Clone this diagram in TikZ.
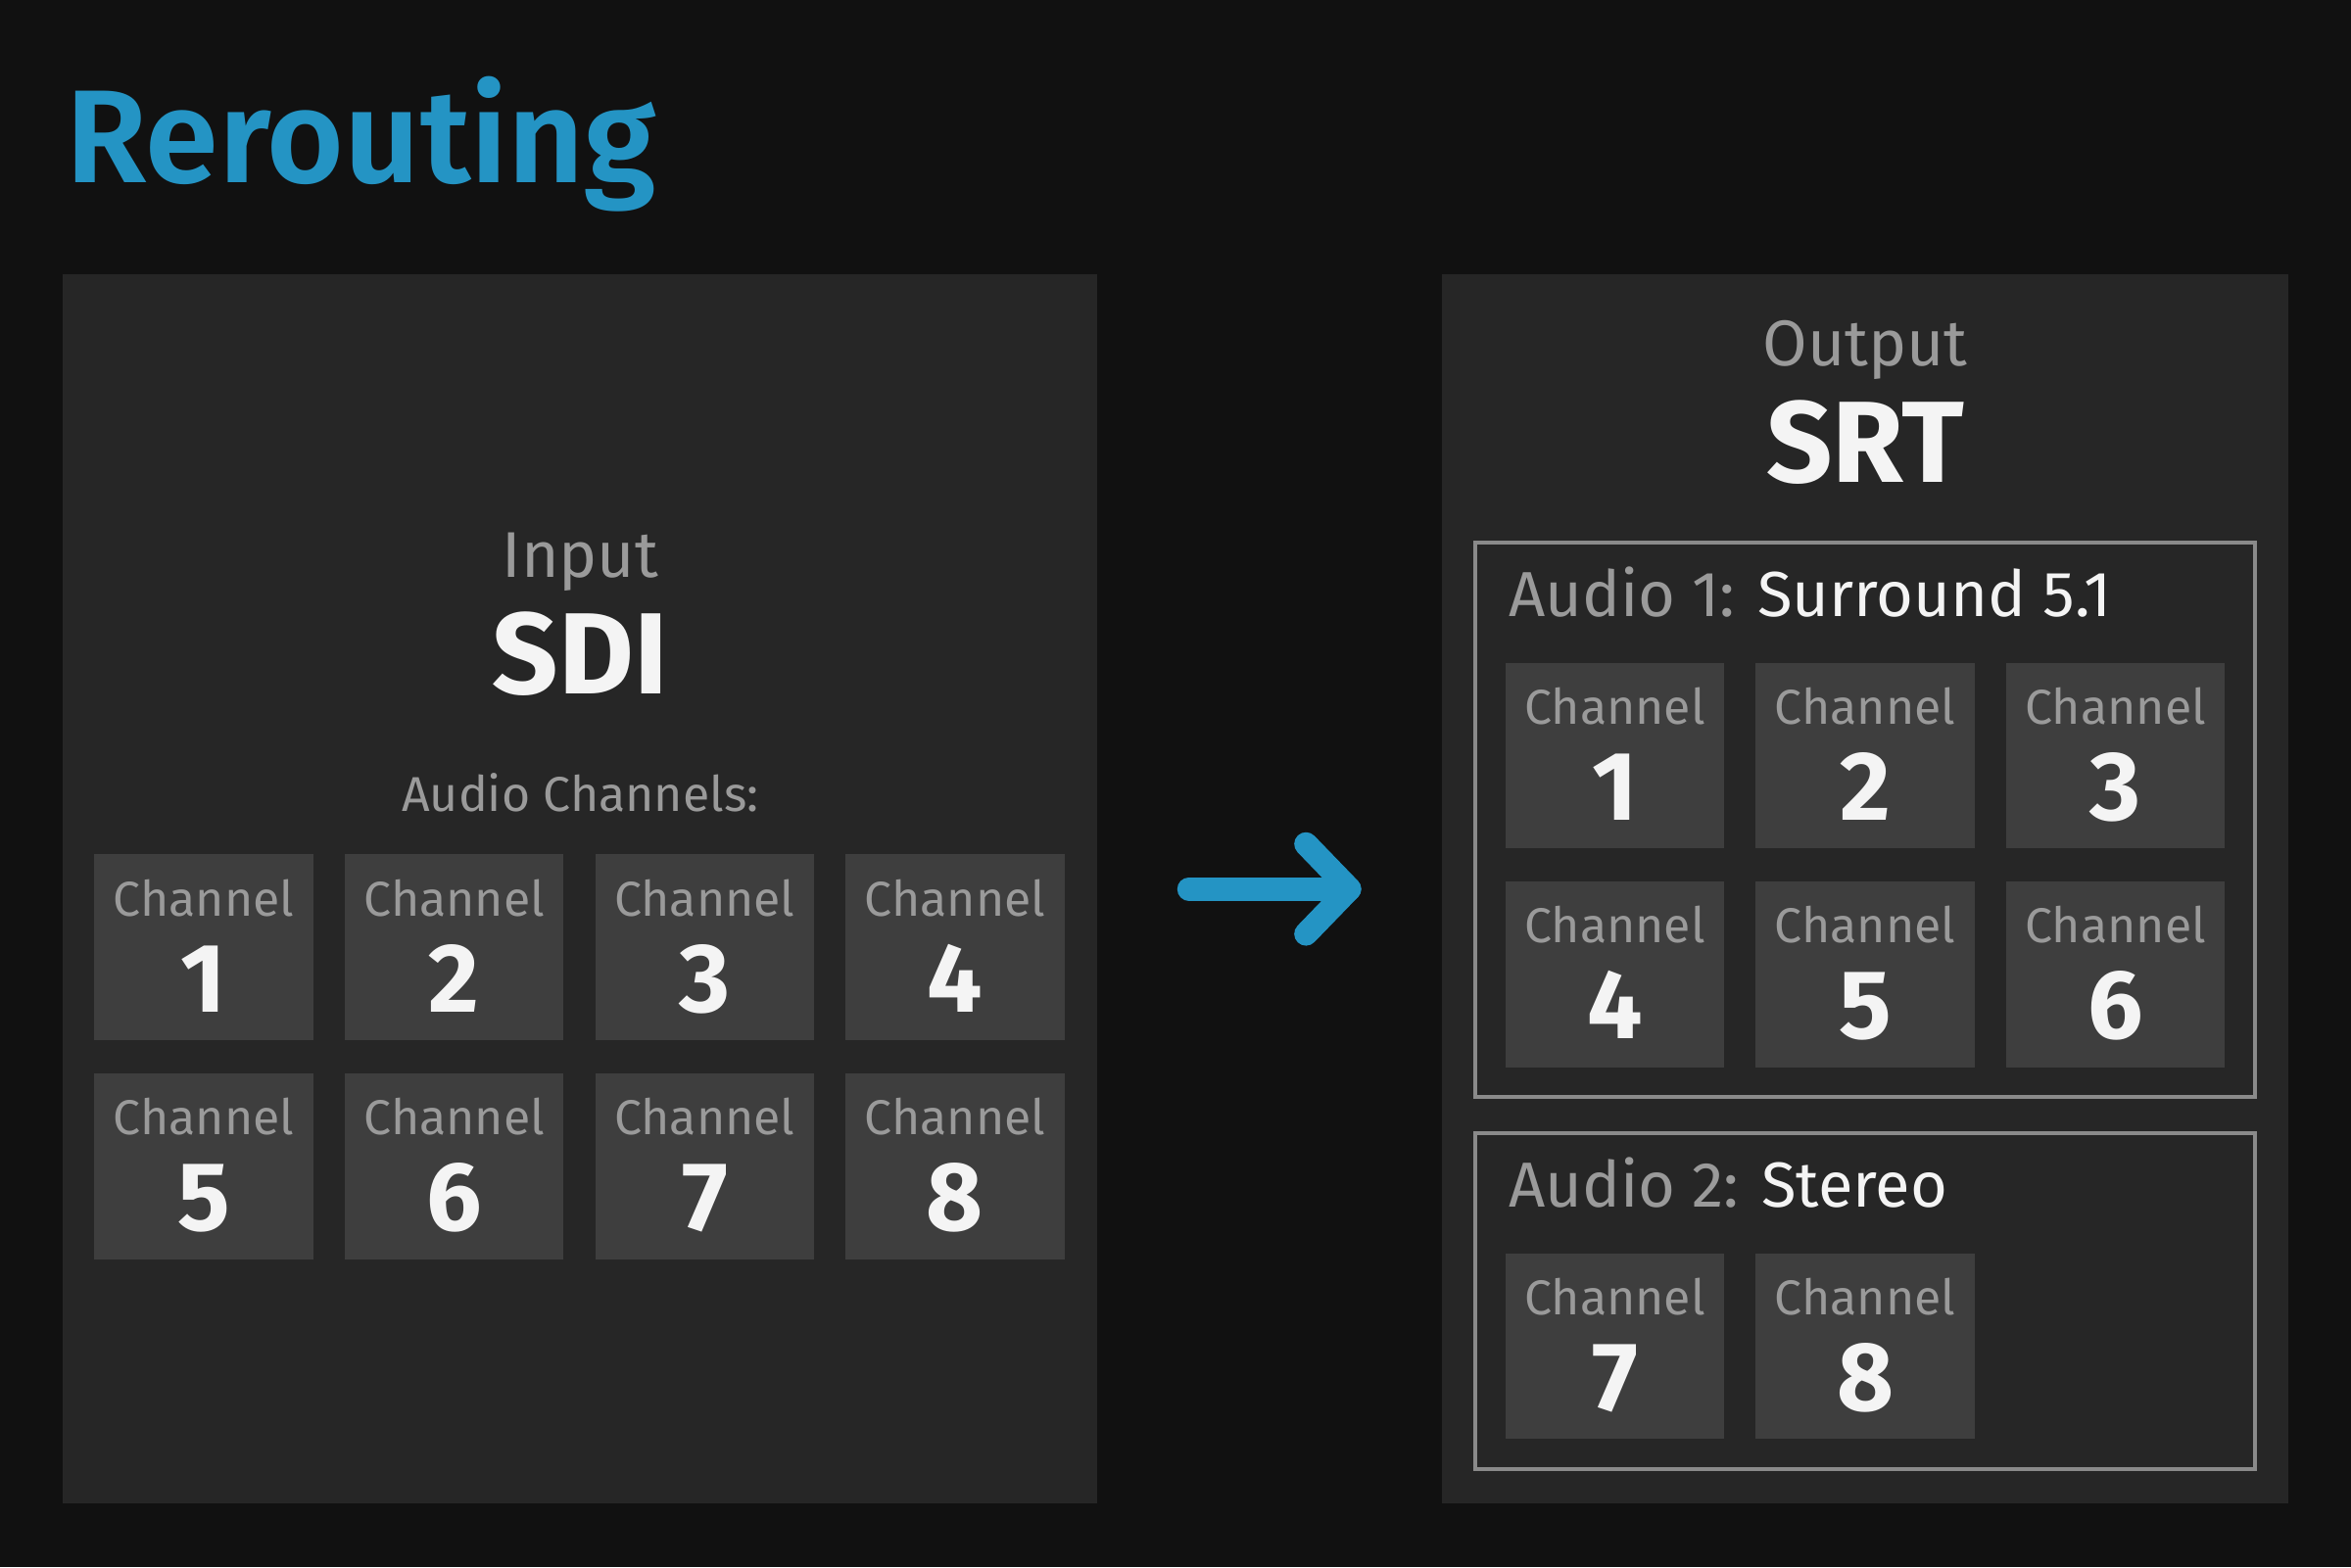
\documentclass[tikz,border=0pt]{standalone}
\usepackage{fontspec}
\setmainfont{Fira Sans}
\newfontfamily\semibf{Fira Sans SemiBold}
\definecolor{bgc}{HTML}{111111}
\definecolor{panelc}{HTML}{262626}
\definecolor{boxc}{HTML}{3E3E3E}
\definecolor{greyt}{HTML}{9A9A9A}
\definecolor{whitet}{HTML}{F4F4F4}
\definecolor{bluec}{HTML}{2494C4}
\definecolor{framec}{HTML}{8A8A8A}
\tikzset{
  panel/.style={fill=panelc, draw=none, inner sep=0pt},
  chbox/.style={fill=boxc, draw=none, minimum width=111.7pt, minimum height=94.9pt, inner sep=0pt},
  chlab/.style={text=greyt, font=\fontsize{25}{30}\selectfont, anchor=base, inner sep=0pt},
  chnum/.style={text=whitet, font=\fontsize{50}{56}\bfseries\selectfont, anchor=base, inner sep=0pt},
  grp/.style={draw=framec, line width=2pt, fill=none, inner sep=0pt},
  subt/.style={text=greyt, font=\fontsize{33}{38}\selectfont, anchor=base, inner sep=0pt},
  bigt/.style={text=whitet, font=\fontsize{59}{66}\bfseries\selectfont, anchor=base, inner sep=0pt},
  grpt/.style={text=greyt, font=\fontsize{32.5}{38}\selectfont, anchor=base west, inner sep=0pt},
  arrowline/.style={draw=bluec, line width=12pt, line cap=round, line join=round}
}
\newcommand{\mychan}[3]{%
  \node[chbox] (#1) at (#2) {};
  \node[chlab] (#1lab) at ([yshift=16pt]#1.center) {Channel};
  \node[chnum] (#1num) at ([yshift=-33pt]#1.center) {#3};
}
\begin{document}
\begin{tikzpicture}[x=0.7653pt, y=-0.7653pt]
\useasboundingbox (0,0) rectangle (1568,1045.33);
\fill[bgc] (0,0) rectangle (1568,1045.33);

% title
\node[text=bluec, font=\fontsize{67.5}{76}\semibf\selectfont, anchor=base west, inner sep=0pt] (title) at (44,122) {Rerouting};

% panels
\fill[panelc] (42,183) rectangle (732,1003);
\fill[panelc] (962,183) rectangle (1526,1003);
\coordinate (inpanel) at (387,593);
\coordinate (outpanel) at (1244,593);

% input labels
\node[subt] (input) at (387,385) {Input};
\node[bigt] (sdi) at (387,463) {SDI};
\node[text=greyt, font=\fontsize{25}{30}\selectfont, anchor=base, inner sep=0pt] (audch) at (387,541) {Audio Channels:};

% input channels
\mychan{a1}{136,632}{1}
\mychan{a2}{303,632}{2}
\mychan{a3}{470,632}{3}
\mychan{a4}{637,632}{4}
\mychan{a5}{136,778}{5}
\mychan{a6}{303,778}{6}
\mychan{a7}{470,778}{7}
\mychan{a8}{637,778}{8}

% arrow
\coordinate (arS) at (793,593);
\coordinate (arT) at (900,593);
\coordinate (arU) at (871,563);
\coordinate (arD) at (871,623);
\draw[arrowline] (arS) -- (arT);
\draw[arrowline] (arU) -- (arT) -- (arD);

% output labels
\node[subt] (output) at (1244,244) {Output};
\node[bigt] (srt) at (1244,322) {SRT};

% group 1
\draw[grp] (984,362) rectangle (1504,732);
\node[grpt] (g1t) at (1006,411) {Audio 1: \textcolor{whitet}{Surround 5.1}};
\mychan{b1}{1077,504}{1}
\mychan{b2}{1244,504}{2}
\mychan{b3}{1411,504}{3}
\mychan{b4}{1077,650}{4}
\mychan{b5}{1244,650}{5}
\mychan{b6}{1411,650}{6}

% group 2
\draw[grp] (984,756) rectangle (1504,980);
\node[grpt] (g2t) at (1006,805) {Audio 2: \textcolor{whitet}{Stereo}};
\mychan{c7}{1077,898}{7}
\mychan{c8}{1244,898}{8}
\end{tikzpicture}
\end{document}
